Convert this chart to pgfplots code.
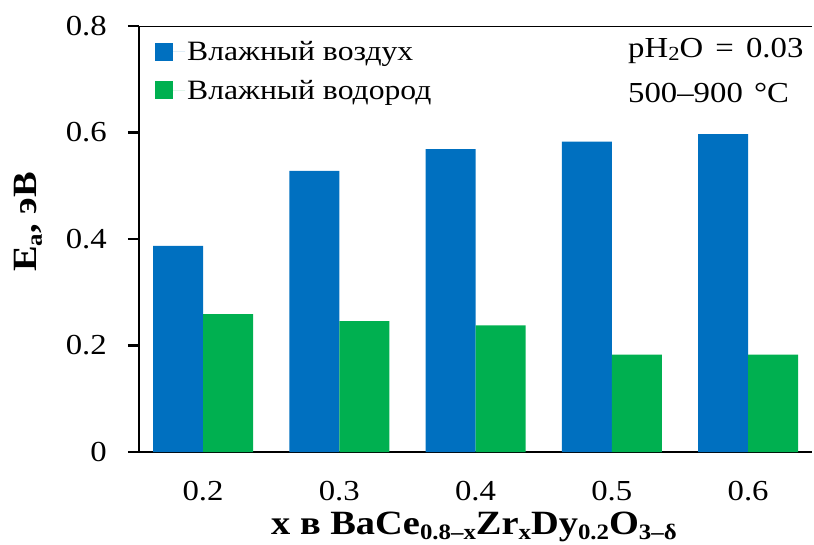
\documentclass[border=0pt]{standalone}
\usepackage{fontspec}
\setmainfont{Liberation Serif}[FakeStretch=1.13]
\usepackage{pgfplots}
\pgfplotsset{compat=1.18}
\definecolor{cblue}{HTML}{0070C0}
\definecolor{cgreen}{HTML}{00B050}
\newcommand{\sub}[1]{\raisebox{-5.5pt}{\fontsize{22}{22}\selectfont #1}}
\begin{document}
\begin{tikzpicture}
\path[use as bounding box] (0,0) rectangle (814pt,544pt);
\begin{axis}[
  at={(139pt,92pt)}, anchor=south west,
  scale only axis, width=673pt, height=426pt,
  xmin=-0.47, xmax=4.469,
  ymin=0, ymax=0.8,
  ytick={0,0.2,0.4,0.6,0.8},
  yticklabels={0,0.2,0.4,0.6,0.8},
  xtick={0,1,2,3,4},
  xticklabels={0.2,0.3,0.4,0.5,0.6},
  axis x line*=bottom, axis y line*=left,
  axis line style={line width=2.5pt, black, -},
  ytick align=outside,
  major tick length=11pt,
  ytick style={line width=2.5pt, black},
  xtick style={draw=none},
  tick label style={font=\fontsize{29}{29}\selectfont},
  yticklabel style={inner sep=0pt, anchor=east, xshift=-21pt},
  xticklabel style={inner sep=0pt, anchor=north, yshift=-18pt},
  /pgf/number format/assume math mode=true,
  ybar=0pt, bar width=50pt,
  legend style={at={(axis description cs:0,1)}, anchor=north west,
    xshift=16pt, yshift=-13pt, draw=none, fill=none, inner sep=0pt,
    font=\fontsize{28}{28}\selectfont,
    row sep=14pt, cells={anchor=west}},
  legend image code/.code={\fill[#1] (0pt,-9pt) rectangle (18pt,9pt); \path (0pt,0pt) -- (30pt,0pt);},
  legend cell align=left,
]
\addplot[fill=cblue, draw=none] coordinates {(0,0.387) (1,0.528) (2,0.569) (3,0.583) (4,0.597)};
\addlegendentry{Влажный воздух}
\addplot[fill=cgreen, draw=none] coordinates {(0,0.259) (1,0.246) (2,0.238) (3,0.183) (4,0.183)};
\addlegendentry{Влажный водород}
\draw[line width=2.5pt, black] (rel axis cs:0,1) -- (rel axis cs:1,1);
\end{axis}
\node[anchor=base west, inner sep=0pt, font=\fontsize{29}{29}\selectfont] at (628pt,486pt) {pH\raisebox{-0.1em}{\fontsize{20}{20}\selectfont 2}O\hspace{4pt} = \hspace{4pt}0.03};
\node[anchor=base west, inner sep=0pt, font=\fontsize{29}{29}\selectfont] at (628pt,441pt) {500–900 \hspace{3pt}°C};
\node[anchor=base, inner sep=0pt, font=\bfseries\fontsize{34}{34}\selectfont] at (474pt,10pt) {x в BaCe\sub{0.8–x}Zr\sub{x}Dy\sub{0.2}O\sub{3–δ}};
\node[anchor=center, rotate=90, inner sep=0pt, font=\bfseries\fontsize{34}{34}\selectfont] at (28pt,322pt) {E\sub{a}, эВ};
\end{tikzpicture}
\end{document}
